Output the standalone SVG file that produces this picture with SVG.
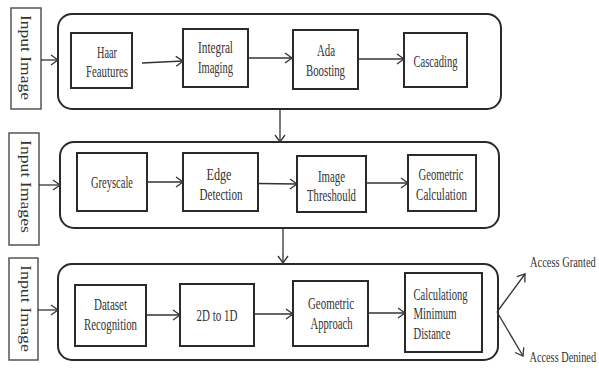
<svg xmlns="http://www.w3.org/2000/svg" width="599" height="368" viewBox="0 0 599 368">
<defs>
<marker id="ah" markerWidth="10" markerHeight="12" refX="8" refY="6" orient="auto" markerUnits="userSpaceOnUse">
<path d="M1,1 L8,6 L1,11" fill="none" stroke="#333" stroke-width="1.3"/>
</marker>
<style>
.outer{fill:none;stroke:#2a2a2a;stroke-width:2}
.box{fill:#fff;stroke:#2a2a2a;stroke-width:2}
.inbox{fill:#fff;stroke:#555;stroke-width:1.5}
.t{font-family:"Liberation Serif","Times New Roman",serif;font-size:17px;fill:#333;text-anchor:middle}
.tl{font-family:"Liberation Serif","Times New Roman",serif;font-size:17px;fill:#333;text-anchor:start}
.a{font-family:"Liberation Serif","Times New Roman",serif;font-size:14.5px;fill:#333;text-anchor:start}
.v{font-family:"Liberation Serif","Times New Roman",serif;font-size:15px;fill:#333;text-anchor:middle}
.c{fill:none;stroke:#333;stroke-width:1.3;marker-end:url(#ah)}
</style>
</defs>
<rect width="599" height="368" fill="#fff"/>

<g id="row1">
<rect class="outer" x="58" y="14" width="443" height="95" rx="14"/>
</g>
<g id="row2">
<rect class="outer" x="60" y="142" width="439" height="86" rx="14"/>
</g>
<g id="row3">
<rect class="outer" x="58" y="264" width="440" height="96" rx="14"/>
</g>

<g id="input1">
<rect class="inbox" x="11" y="8" width="30" height="101"/>
<text class="v" transform="translate(21,57.5) rotate(90)" textLength="85" lengthAdjust="spacingAndGlyphs">Input Image</text>
</g>
<g id="input2">
<rect class="inbox" x="9" y="133" width="30" height="112"/>
<text class="v" transform="translate(20.5,186.5) rotate(90)" textLength="93" lengthAdjust="spacingAndGlyphs">Input Images</text>
</g>
<g id="input3">
<rect class="inbox" x="9" y="258" width="29" height="102"/>
<text class="v" transform="translate(20.5,308.5) rotate(90)" textLength="87" lengthAdjust="spacingAndGlyphs">Input Image</text>
</g>

<g id="haar">
<rect class="box" x="71" y="33" width="61" height="55"/>
<text class="t" x="107" y="57.5" textLength="20" lengthAdjust="spacingAndGlyphs">Haar</text>
<text class="t" x="107" y="77" textLength="42" lengthAdjust="spacingAndGlyphs">Feautures</text>
</g>
<g id="integral">
<rect class="box" x="183" y="29" width="65" height="58"/>
<text class="t" x="215.5" y="53" textLength="35" lengthAdjust="spacingAndGlyphs">Integral</text>
<text class="t" x="215.5" y="73" textLength="35" lengthAdjust="spacingAndGlyphs">Imaging</text>
</g>
<g id="ada">
<rect class="box" x="293" y="30" width="65" height="59"/>
<text class="t" x="326" y="56" textLength="18" lengthAdjust="spacingAndGlyphs">Ada</text>
<text class="t" x="325.5" y="76" textLength="39" lengthAdjust="spacingAndGlyphs">Boosting</text>
</g>
<g id="cascading">
<rect class="box" x="404" y="33" width="63" height="54"/>
<text class="t" x="435.5" y="67" textLength="44" lengthAdjust="spacingAndGlyphs">Cascading</text>
</g>

<g id="greyscale">
<rect class="box" x="77" y="153" width="70" height="58"/>
<text class="t" x="112" y="188" textLength="42" lengthAdjust="spacingAndGlyphs">Greyscale</text>
</g>
<g id="edge">
<rect class="box" x="183" y="153" width="75" height="58"/>
<text class="t" x="219" y="179.5" textLength="25" lengthAdjust="spacingAndGlyphs">Edge</text>
<text class="t" x="221" y="199.5" textLength="43" lengthAdjust="spacingAndGlyphs">Detection</text>
</g>
<g id="threshold">
<rect class="box" x="297" y="156" width="69" height="56"/>
<text class="t" x="331.5" y="181.5" textLength="27" lengthAdjust="spacingAndGlyphs">Image</text>
<text class="t" x="331.5" y="200.5" textLength="49" lengthAdjust="spacingAndGlyphs">Threshould</text>
</g>
<g id="geocalc">
<rect class="box" x="408" y="155" width="68" height="56"/>
<text class="t" x="441" y="180" textLength="45" lengthAdjust="spacingAndGlyphs">Geometric</text>
<text class="t" x="441.5" y="200" textLength="51" lengthAdjust="spacingAndGlyphs">Calculation</text>
</g>

<g id="dataset">
<rect class="box" x="75" y="285" width="71" height="61"/>
<text class="t" x="110.5" y="310" textLength="33" lengthAdjust="spacingAndGlyphs">Dataset</text>
<text class="t" x="110.5" y="330" textLength="53" lengthAdjust="spacingAndGlyphs">Recognition</text>
</g>
<g id="twod">
<rect class="box" x="180" y="284" width="74" height="62"/>
<text class="t" x="217" y="320.5" textLength="41" lengthAdjust="spacingAndGlyphs">2D to 1D</text>
</g>
<g id="geoapp">
<rect class="box" x="293" y="281" width="75" height="65"/>
<text class="t" x="331" y="308.5" textLength="46" lengthAdjust="spacingAndGlyphs">Geometric</text>
<text class="t" x="331.5" y="328.5" textLength="42" lengthAdjust="spacingAndGlyphs">Approach</text>
</g>
<g id="calcmin">
<rect class="box" x="405" y="273" width="77" height="79"/>
<text class="tl" x="413.5" y="299.5" textLength="54" lengthAdjust="spacingAndGlyphs">Calculationg</text>
<text class="tl" x="413.5" y="318.5" textLength="43" lengthAdjust="spacingAndGlyphs">Minimum</text>
<text class="tl" x="413.5" y="339" textLength="37" lengthAdjust="spacingAndGlyphs">Distance</text>
</g>

<g id="granted">
<text class="a" transform="translate(530,267) scale(0.72,1)">Access Granted</text>
</g>
<g id="denied">
<text class="a" transform="translate(529.5,362) scale(0.71,1)">Access Denined</text>
</g>

<g id="connectors">
<path class="c" d="M41,60 L58,60"/>
<path class="c" d="M39,185 L60,185"/>
<path class="c" d="M38,310 L58,310"/>
<path class="c" d="M142,63 L183,61"/>
<path class="c" d="M248,58 L292,58"/>
<path class="c" d="M358,59 L404,59"/>
<path class="c" d="M280,109 L280,142"/>
<path class="c" d="M147,182 L183,182"/>
<path class="c" d="M258,183.5 L297,184"/>
<path class="c" d="M366,183 L408,183"/>
<path class="c" d="M283,228 L283,263"/>
<path class="c" d="M146,315 L180,315"/>
<path class="c" d="M254,314 L293,314"/>
<path class="c" d="M368,313 L405,313"/>
<path class="c" d="M497,312 L525,274"/>
<path class="c" d="M497,312 L523,356"/>
</g>
</svg>
